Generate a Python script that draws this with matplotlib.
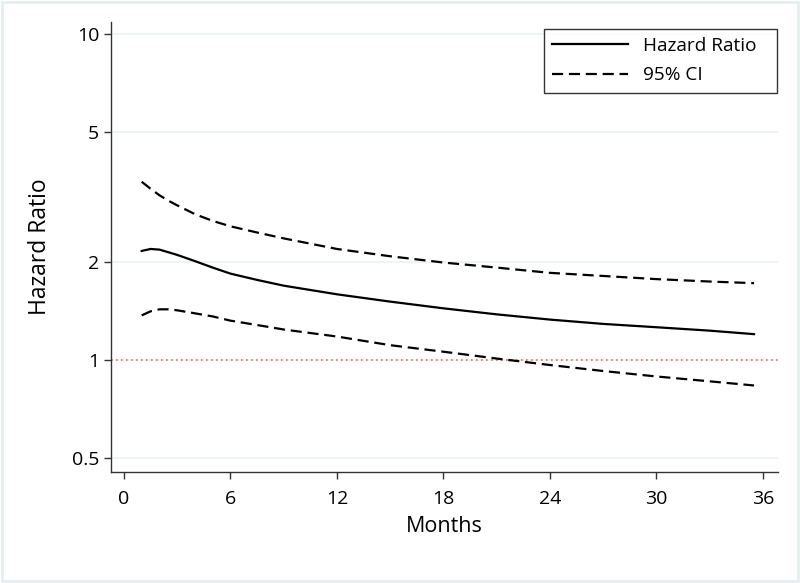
import matplotlib
matplotlib.use("Agg")
import matplotlib.pyplot as plt
from matplotlib.patches import Rectangle
from matplotlib.lines import Line2D

months = [1, 1.5, 2, 2.5, 3, 4, 5, 6, 7.5, 9, 12, 15, 18, 21, 24, 27, 30, 33, 35.5]
hazard_ratio = [2.16, 2.19, 2.18, 2.14, 2.10, 2.01, 1.92, 1.84, 1.76, 1.69, 1.59, 1.51, 1.44, 1.38, 1.33, 1.29, 1.26, 1.23, 1.20]
ci_upper = [3.52, 3.35, 3.20, 3.08, 2.98, 2.80, 2.67, 2.57, 2.46, 2.36, 2.19, 2.08, 1.99, 1.92, 1.85, 1.81, 1.77, 1.74, 1.72]
ci_lower = [1.37, 1.41, 1.43, 1.43, 1.42, 1.39, 1.36, 1.32, 1.28, 1.24, 1.18, 1.11, 1.06, 1.01, 0.965, 0.925, 0.89, 0.86, 0.835]

x_ticks = [0, 6, 12, 18, 24, 30, 36]
y_ticks = [0.5, 1, 2, 5, 10]
y_tick_labels = ["0.5", "1", "2", "5", "10"]

plt.rcParams['font.family'] = ['Open Sans', 'DejaVu Sans']

fig = plt.figure(figsize=(8, 5.83), dpi=100)
fig.patches.append(Rectangle((0.002, 0.003), 0.996, 0.994, transform=fig.transFigure,
                             fill=False, edgecolor='#e6eef0', linewidth=2))
ax = fig.add_axes([0.13875, 0.1904, 0.83375, 0.7719])

ax.set_yscale('log')
ax.set_xlim(-0.73, 36.85)
ax.set_ylim(0.4533, 10.88)

for yv in y_ticks:
    ax.axhline(yv, color='#eaf2f4', linewidth=1.2, zorder=0)
ax.axhline(1, color='#ff6060', linewidth=1.2, linestyle=(0, (1, 2)), zorder=1)

dash = (0, (5.0, 2.6))
ax.plot(months, hazard_ratio, color='black', linewidth=1.6, zorder=3)
ax.plot(months, ci_upper, color='black', linewidth=1.6, linestyle=dash, zorder=3)
ax.plot(months, ci_lower, color='black', linewidth=1.6, linestyle=dash, zorder=3)

ax.set_xticks(x_ticks)
ax.set_xticklabels([str(t) for t in x_ticks])
ax.set_yticks(y_ticks)
ax.set_yticklabels(y_tick_labels)
ax.yaxis.set_minor_locator(matplotlib.ticker.NullLocator())

for s in ['top', 'right']:
    ax.spines[s].set_visible(False)
for s in ['left', 'bottom']:
    ax.spines[s].set_color('#333333')
    ax.spines[s].set_linewidth(1.0)
ax.tick_params(axis='both', labelsize=14, length=5, width=1.0, color='#333333')
ax.tick_params(axis='x', pad=8)
ax.tick_params(axis='y', pad=3.5)

ax.set_xlabel('Months', fontsize=15.5, labelpad=6)
ax.set_ylabel('Hazard Ratio', fontsize=16.5, labelpad=14)

handles = [Line2D([], [], color='black', linewidth=1.6),
           Line2D([], [], color='black', linewidth=1.6, linestyle=dash)]
leg = ax.legend(handles, ['Hazard Ratio', '95% CI'], loc='upper left',
                bbox_to_anchor=(543.5 / 800, 1 - 95 / 583, 233 / 800, 66.5 / 583),
                bbox_transform=fig.transFigure, mode='expand',
                fontsize=13.7, frameon=True, fancybox=False, handlelength=3.97,
                handletextpad=0.8, borderpad=0.45, labelspacing=0.6, borderaxespad=0)
leg.get_frame().set_edgecolor('black')
leg.get_frame().set_linewidth(1.0)

fig.savefig('out.png', dpi=100, facecolor='white')
